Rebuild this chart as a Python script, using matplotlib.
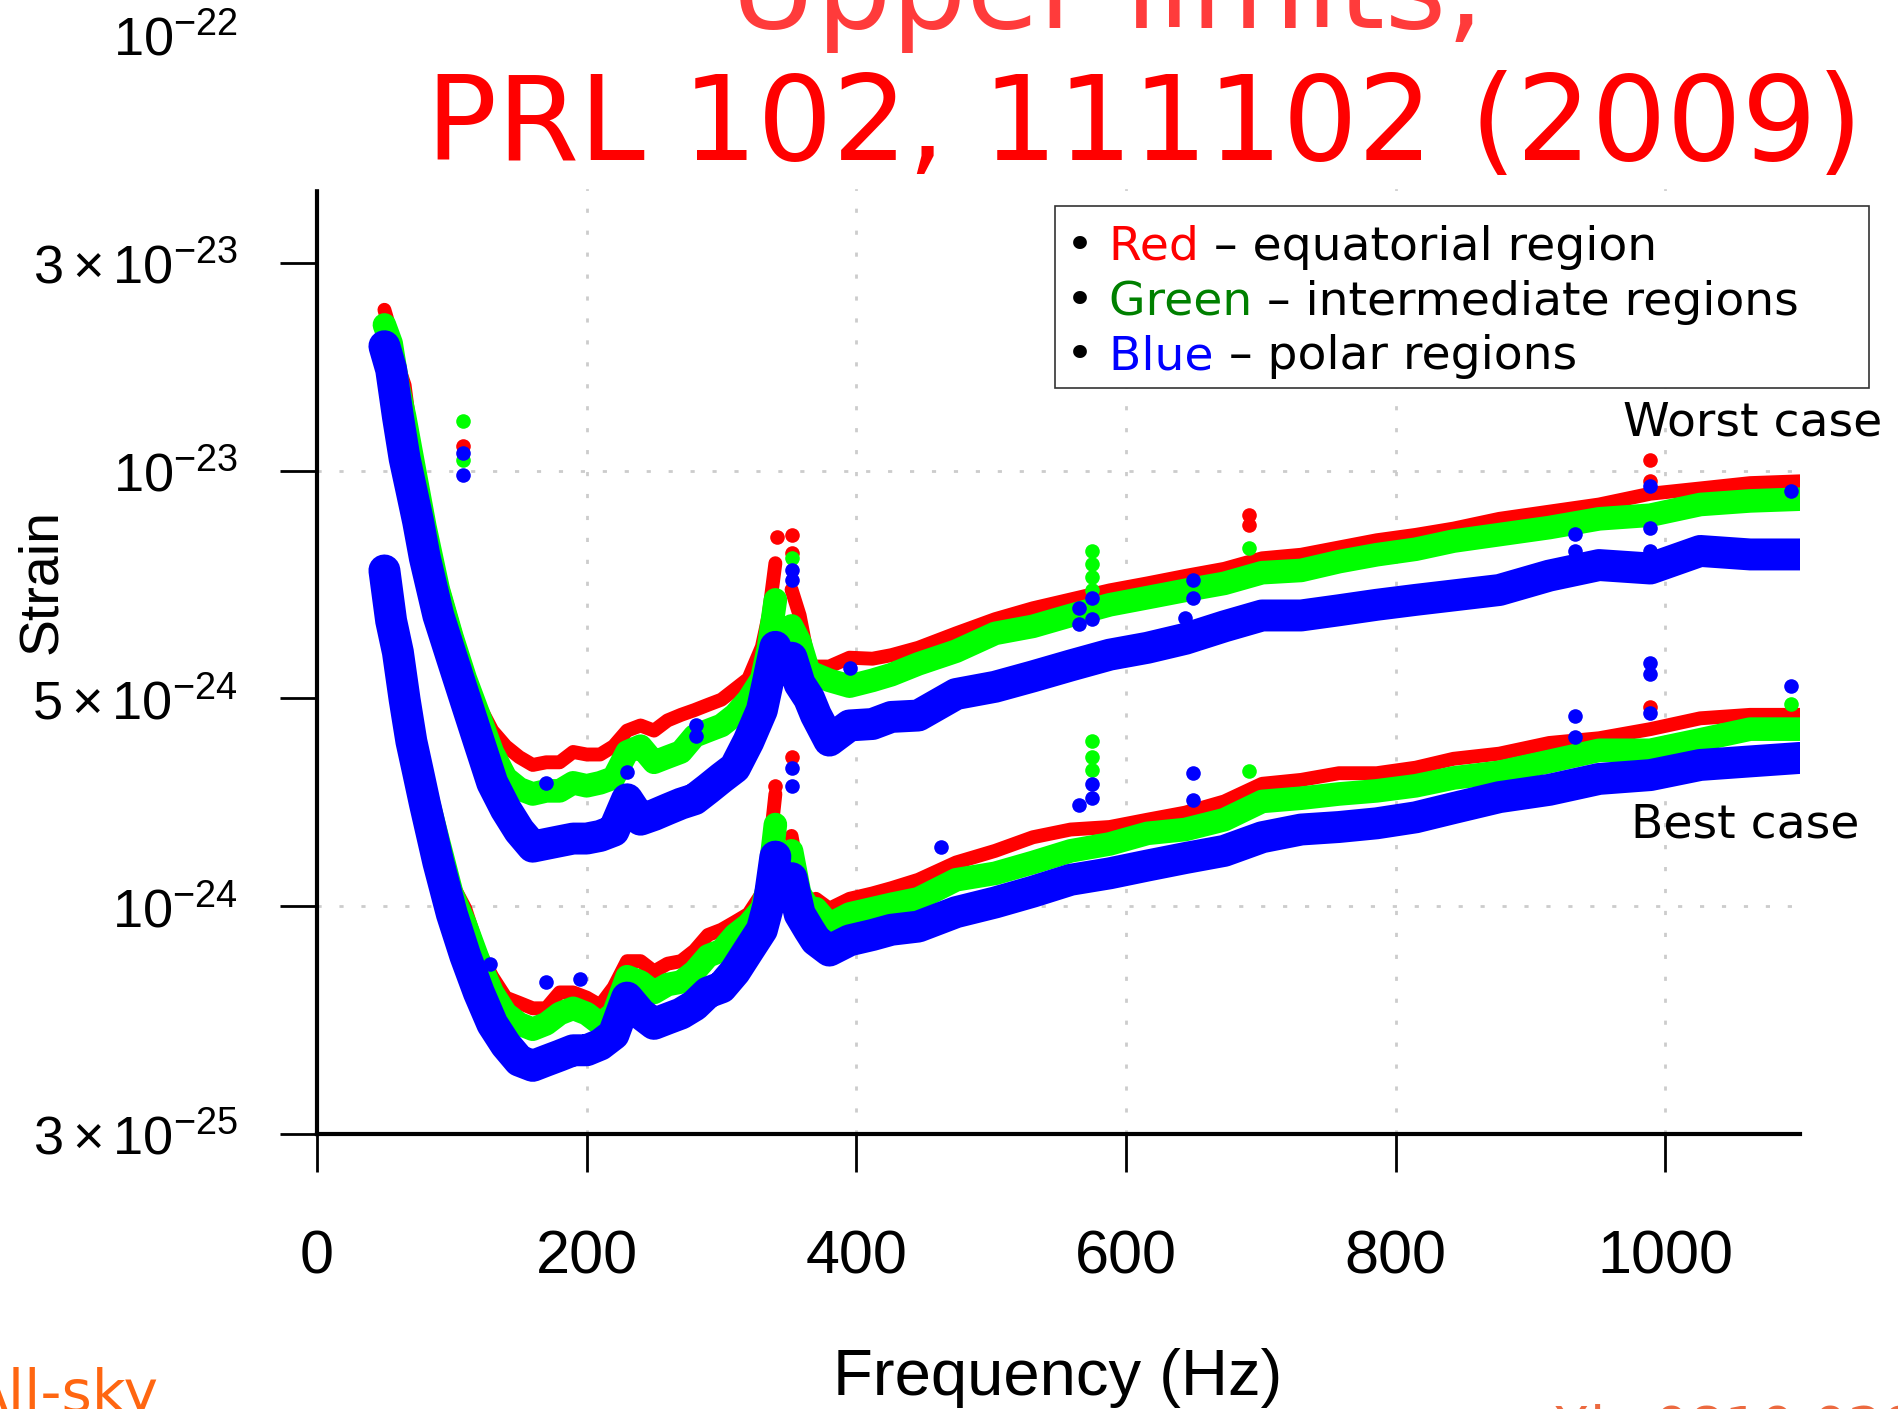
import numpy as np
import matplotlib.pyplot as plt
from matplotlib.patches import Rectangle

plt.rcParams['mathtext.fontset'] = 'custom'
plt.rcParams['mathtext.rm'] = 'Liberation Sans'
plt.rcParams['mathtext.it'] = 'Liberation Sans:italic'
plt.rcParams['mathtext.bf'] = 'Liberation Sans:bold'

# --- data (strain in units of 1e-24) ---
unit = 1e-24
freq = [50, 55, 60, 65, 70, 75, 80, 90, 100, 110, 120, 130, 140, 150, 160, 170,
        180, 190, 200, 210, 220, 230, 240, 250, 260, 270, 280, 290, 300, 310,
        320, 330, 335, 340, 346, 352, 358, 365, 370, 380, 395, 412, 426, 446,
        474, 503, 531, 559, 588, 616, 644, 673, 701, 730, 758, 786, 815, 843,
        877, 914, 951, 989, 1026, 1063, 1100]
nan = np.nan

# worst case (upper set of curves)
worst_red = [23.4, 20.7, 17.5, 15.7, 11.9, 9.54, 7.86, 5.80, 4.52, 3.52, 2.90, 2.53,
             2.33, 2.20, 2.11, 2.14, 2.14, 2.26, 2.23, 2.23, 2.33, 2.53, 2.60, 2.53,
             2.67, 2.75, 2.82, 2.90, 2.98, 3.15, 3.33, 3.94, 4.65, 6.13, nan, 5.33,
             4.65, 3.60, 3.55, 3.55, 3.72, 3.70, 3.77, 3.92, 4.23, 4.56, 4.83, 5.06,
             5.31, 5.51, 5.73, 5.95, 6.29, 6.41, 6.66, 6.92, 7.12, 7.36, 7.75, 8.05,
             8.36, 8.85, 9.10, 9.36, 9.45]
worst_green = [21.6, 19.6, 15.7, 13.3, 10.95, 9.03, 7.44, 5.33, 4.16, 3.33, 2.75, 2.26,
               1.97, 1.86, 1.81, 1.84, 1.84, 1.92, 1.89, 1.92, 1.97, 2.26, 2.33, 2.14,
               2.20, 2.26, 2.46, 2.53, 2.60, 2.75, 2.98, 3.33, 3.94, 5.05, nan, 4.40,
               4.05, 3.43, 3.40, 3.30, 3.20, 3.30, 3.40, 3.60, 3.85, 4.23, 4.39, 4.65,
               4.92, 5.11, 5.31, 5.51, 5.83, 5.90, 6.18, 6.41, 6.60, 6.89, 7.13, 7.40,
               7.75, 7.90, 8.36, 8.52, 8.60]
worst_blue = [19.3, 17.06, 13.3, 10.65, 9.03, 7.64, 6.30, 4.65, 3.72, 2.98, 2.39, 1.92,
              1.67, 1.49, 1.37, 1.39, 1.41, 1.43, 1.43, 1.45, 1.49, 1.76, 1.58, 1.62,
              1.67, 1.72, 1.76, 1.86, 1.97, 2.08, 2.39, 2.82, 3.33, 3.94, nan, 3.72,
              3.24, 3.00, 2.75, 2.40, 2.60, 2.62, 2.72, 2.74, 3.07, 3.19, 3.37, 3.57,
              3.78, 3.92, 4.11, 4.39, 4.65, 4.65, 4.78, 4.92, 5.05, 5.17, 5.32, 5.74,
              6.07, 5.96, 6.54, 6.42, 6.42]

# best case (lower set of curves)
best_red = [5.6, 4.78, 4.05, 3.24, 2.82, 2.39, 2.03, 1.54, 1.13, 0.987, 0.791, 0.689,
            0.617, 0.600, 0.583, 0.583, 0.634, 0.634, 0.617, 0.592, 0.651, 0.748, 0.748,
            0.708, 0.738, 0.748, 0.791, 0.859, 0.883, 0.920, 0.960, 1.07, 1.30, 1.81, nan,
            1.45, 1.13, 1.01, 1.04, 0.987, 1.04, 1.07, 1.10, 1.15, 1.26, 1.34, 1.44, 1.50,
            1.52, 1.58, 1.64, 1.74, 1.91, 1.95, 2.02, 2.02, 2.08, 2.18, 2.24, 2.37, 2.43,
            2.55, 2.70, 2.75, 2.75]
best_green = [5.7, 4.78, 3.94, 3.15, 2.60, 2.20, 1.86, 1.41, 1.07, 0.908, 0.748, 0.634,
              0.567, 0.537, 0.522, 0.537, 0.567, 0.583, 0.567, 0.537, 0.567, 0.689, 0.670,
              0.634, 0.661, 0.670, 0.708, 0.769, 0.791, 0.859, 0.908, 0.987, 1.13, 1.54, nan,
              1.34, 1.07, 0.987, 0.987, 0.908, 0.960, 0.987, 1.01, 1.04, 1.15, 1.19, 1.26,
              1.34, 1.39, 1.47, 1.50, 1.58, 1.74, 1.77, 1.81, 1.84, 1.89, 1.97, 2.03, 2.15,
              2.28, 2.28, 2.41, 2.55, 2.55]
best_blue = [5.9, 4.52, 3.83, 2.98, 2.39, 2.03, 1.72, 1.26, 0.960, 0.769, 0.634, 0.537,
             0.481, 0.442, 0.430, 0.442, 0.454, 0.467, 0.467, 0.481, 0.508, 0.617, 0.567,
             0.537, 0.552, 0.567, 0.592, 0.634, 0.651, 0.708, 0.791, 0.883, 1.01, 1.30, nan,
             1.16, 0.960, 0.883, 0.835, 0.791, 0.835, 0.859, 0.883, 0.898, 0.969, 1.02, 1.08,
             1.15, 1.19, 1.24, 1.29, 1.34, 1.44, 1.50, 1.52, 1.55, 1.60, 1.68, 1.78, 1.85,
             1.96, 2.00, 2.11, 2.15, 2.19]

# isolated outlier points (line features)
red_spike_f = [108, 341, 352, 352, 691, 691, 989, 989, 340, 352, 989]
red_spike_v = [11.4, 7.03, 7.13, 6.48, 7.89, 7.5, 10.6, 9.45, 1.89, 2.20, 2.86]
green_spike_f = [108, 108, 352, 575, 575, 575, 575, 691, 575, 575, 575, 691, 1093]
green_spike_v = [13.0, 10.6, 6.3, 6.53, 6.1, 5.7, 5.31, 6.66, 2.40, 2.20, 2.06, 2.04, 2.91]
blue_spike_f = [108, 108, 170, 230, 281, 281, 352, 352, 395, 565, 565, 575, 575, 644,
                650, 650, 933, 933, 989, 989, 989, 1093,
                128, 170, 195, 352, 352, 463, 565, 575, 575, 650, 650, 933, 933,
                989, 989, 989, 1093]
blue_spike_v = [11.0, 9.75, 1.92, 2.03, 2.60, 2.46, 5.9, 5.6, 3.52, 4.83, 4.45, 5.11, 4.56,
                4.6, 5.62, 5.11, 7.16, 6.54, 9.2, 7.40, 6.54, 9.0,
                0.738, 0.670, 0.68, 2.08, 1.89, 1.37, 1.71, 1.91, 1.77, 2.02, 1.75, 2.73,
                2.45, 3.61, 3.42, 2.78, 3.20]

xtick_pos = [0, 200, 400, 600, 800, 1000]
xtick_labels = ['0', '200', '400', '600', '800', '1000']
ytick_pos = [3e-25, 1e-24, 3e-24, 1e-23, 3e-23, 1e-22]
ytick_labels = [r'$3\times10^{-25}$', r'$10^{-24}$', r'$5\times10^{-24}$',
                r'$10^{-23}$', r'$3\times10^{-23}$', r'$10^{-22}$']

# --- figure ---
W, H = 1899, 1409
fig = plt.figure(figsize=(W / 100, H / 100), dpi=100)


def fx(px):
    return px / W


def fy(py):
    return 1 - py / H


ax = fig.add_axes([fx(317), fy(1134), fx(1800) - fx(317), fy(35) - fy(1134)])
ax.set_yscale('log')
ax.set_xlim(0, 1100)
ax.set_ylim(3e-25, 1e-22)

f = np.array(freq)
grid_kw = dict(color='#cccccc', lw=2, linestyle=(0, (1.5, 6.4)), zorder=0)
for gx in xtick_pos[1:]:
    ax.axvline(gx, **grid_kw)
for gy in [1e-24, 1e-23]:
    ax.axhline(gy, **grid_kw)

layers = [('#ff0000', 10, worst_red, best_red, red_spike_f, red_spike_v),
          ('#00ff00', 17, worst_green, best_green, green_spike_f, green_spike_v),
          ('#0000ff', 23, worst_blue, best_blue, blue_spike_f, blue_spike_v)]
for col, lw, w, b, sf, sv in layers:
    for vals in (w, b):
        ax.plot(f, np.array(vals) * unit, color=col, lw=lw,
                solid_capstyle='round', solid_joinstyle='round')
    ax.plot(sf, np.array(sv) * unit, 'o', color=col, ms=10.5, mew=0)

ax.set_xticks(xtick_pos, xtick_labels)
ax.set_yticks(ytick_pos, ytick_labels)
ax.minorticks_off()
ax.tick_params(axis='both', direction='out', length=27, width=2, colors='black')
ax.tick_params(axis='x', labelsize=44, pad=42)
ax.tick_params(axis='y', labelsize=39, pad=30)
for lab in ax.get_xticklabels():
    lab.set_family('Liberation Sans')
for side in ['top', 'right']:
    ax.spines[side].set_visible(False)
for side in ['left', 'bottom']:
    ax.spines[side].set_linewidth(3)

fig.text(fx(42), fy(581), 'Strain', rotation=90, ha='center', va='center',
         fontsize=40, family='Liberation Sans')
fig.text(fx(1058), fy(1395), 'Frequency (Hz)', ha='center', va='baseline',
         fontsize=47, family='Liberation Sans')

# slide overlay: title area hides the top of the plot
fig.add_artist(Rectangle((fx(250), fy(188)), 1 - fx(250), fy(0) - fy(188),
                         transform=fig.transFigure, color='white', zorder=9))
fig.text(fx(1107), fy(28), 'Upper limits,', ha='center', va='baseline',
         fontsize=85, color='#ff3b3b', family='DejaVu Sans', zorder=10)
fig.text(fx(1144), fy(160), 'PRL 102, 111102 (2009)', ha='center', va='baseline',
         fontsize=85, color='#ff0000', family='DejaVu Sans', zorder=10)

# legend box
fig.add_artist(Rectangle((fx(1055), fy(388)), fx(1869) - fx(1055), fy(206) - fy(388),
                         transform=fig.transFigure, facecolor='white',
                         edgecolor='#333333', lw=1.2, zorder=9))
renderer = fig.canvas.get_renderer()


def text_width(s, size):
    t = fig.text(0, 0, s, fontsize=size, family='DejaVu Sans')
    w = t.get_window_extent(renderer).width
    t.remove()
    return w


def draw_parts(x, y, parts, size=34):
    prefix = ''
    for s, c in parts:
        off = 0
        if prefix:
            off = text_width(prefix + s[0], size) - text_width(s[0], size)
        fig.text(fx(x + off), fy(y), s, color=c, fontsize=size, va='baseline',
                 family='DejaVu Sans', zorder=10)
        prefix += s


draw_parts(1066, 260, [('•', 'black'), (' Red', '#ff0000'),
                       (' – equatorial region', 'black')])
draw_parts(1066, 315, [('•', 'black'), (' Green', '#008000'),
                       (' – intermediate regions', 'black')])
draw_parts(1066, 369, [('•', 'black'), (' Blue', '#0000ff'),
                       (' – polar regions', 'black')])

fig.text(fx(1882), fy(436), 'Worst case', ha='right', va='baseline', fontsize=34,
         family='DejaVu Sans', zorder=10)
fig.text(fx(1859), fy(838), 'Best case', ha='right', va='baseline', fontsize=34,
         family='DejaVu Sans', zorder=10)

fig.text(fx(-31), fy(1412), 'All-sky', va='baseline', fontsize=42, color='#ff6611',
         family='DejaVu Sans')
fig.text(fx(1496), fy(1446), 'arXiv:0810.0283', va='baseline', fontsize=40,
         color='#ec6a40', family='DejaVu Sans')

fig.savefig('out.png', dpi=100)
